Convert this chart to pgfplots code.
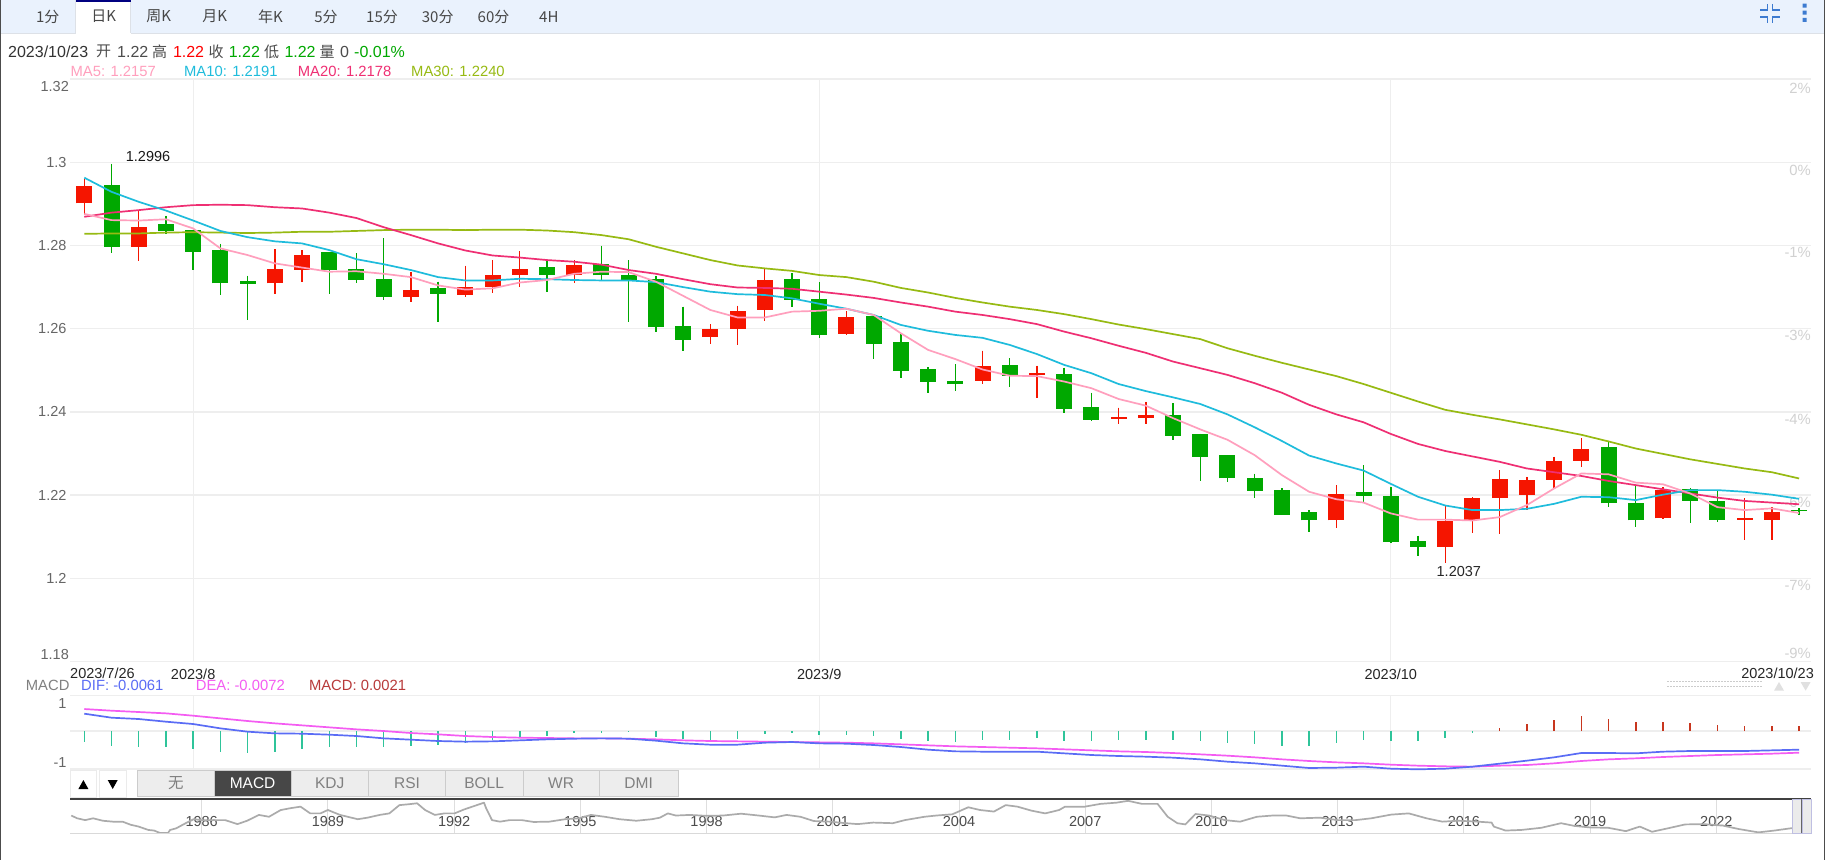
\documentclass[border=0pt]{standalone}
\usepackage{fontspec}
\usepackage{pgfplots}
\usepackage{pgfplotstable}
\pgfplotsset{compat=1.18}
\setmainfont{Liberation Sans}
\newfontfamily\cjk{Noto Sans CJK SC}

\definecolor{upred}{HTML}{F51500}
\definecolor{downgreen}{HTML}{00A800}
\definecolor{cma5}{HTML}{FF9FBD}
\definecolor{cma10}{HTML}{1FBCDC}
\definecolor{cma20}{HTML}{EF2F73}
\definecolor{cma30}{HTML}{97BA13}
\definecolor{cdif}{HTML}{5A6CF5}
\definecolor{cdea}{HTML}{F45CF2}
\definecolor{cmacd}{HTML}{B83A3A}
\definecolor{barup}{HTML}{C8361E}
\definecolor{bardown}{HTML}{2FC49A}
\definecolor{gridc}{HTML}{EEEEEE}
\definecolor{tabbg}{HTML}{EAF2FD}
\definecolor{iconblue}{HTML}{3D7BD0}

\newcommand{\fs}[1]{\fontsize{#1pt}{#1pt}\selectfont}

% i open high low close
\pgfplotstableread{
i o h l c
0 1.2901 1.2959 1.2873 1.2943
1 1.2946 1.2996 1.2781 1.2797
2 1.2797 1.2884 1.2763 1.2844
3 1.2852 1.2871 1.2827 1.2836
4 1.2837 1.2838 1.2740 1.2785
5 1.2789 1.2804 1.2680 1.2709
6 1.2715 1.2727 1.2620 1.2708
7 1.2709 1.2791 1.2683 1.2744
8 1.2742 1.2788 1.2712 1.2777
9 1.2784 1.2784 1.2684 1.2742
10 1.2744 1.2781 1.2711 1.2718
11 1.2720 1.2817 1.2668 1.2677
12 1.2676 1.2736 1.2665 1.2693
13 1.2699 1.2713 1.2616 1.2684
14 1.2682 1.2751 1.2675 1.2700
15 1.2701 1.2765 1.2686 1.2728
16 1.2729 1.2786 1.2701 1.2744
17 1.2748 1.2763 1.2688 1.2729
18 1.2730 1.2765 1.2709 1.2753
19 1.2756 1.2799 1.2717 1.2728
20 1.2728 1.2764 1.2615 1.2716
21 1.2720 1.2727 1.2591 1.2604
22 1.2607 1.2653 1.2547 1.2574
23 1.2580 1.2611 1.2564 1.2599
24 1.2600 1.2655 1.2562 1.2642
25 1.2646 1.2745 1.2619 1.2717
26 1.2720 1.2733 1.2652 1.2670
27 1.2672 1.2712 1.2577 1.2586
28 1.2588 1.2642 1.2585 1.2627
29 1.2630 1.2630 1.2528 1.2564
30 1.2567 1.2587 1.2482 1.2498
31 1.2503 1.2507 1.2446 1.2472
32 1.2474 1.2514 1.2450 1.2466
33 1.2475 1.2547 1.2468 1.2510
34 1.2513 1.2529 1.2459 1.2487
35 1.2489 1.2511 1.2434 1.2493
36 1.2492 1.2506 1.2397 1.2408
37 1.2411 1.2446 1.2378 1.2381
38 1.2384 1.2410 1.2370 1.2387
39 1.2385 1.2424 1.2370 1.2393
40 1.2393 1.2421 1.2333 1.2343
41 1.2347 1.2347 1.2233 1.2292
42 1.2296 1.2296 1.2231 1.2240
43 1.2240 1.2251 1.2194 1.2211
44 1.2212 1.2216 1.2152 1.2153
45 1.2159 1.2164 1.2111 1.2139
46 1.2139 1.2224 1.2121 1.2203
47 1.2207 1.2272 1.2182 1.2199
48 1.2197 1.2220 1.2084 1.2087
49 1.2089 1.2102 1.2054 1.2076
50 1.2076 1.2176 1.2037 1.2138
51 1.2141 1.2195 1.2108 1.2192
52 1.2193 1.2260 1.2107 1.2239
53 1.2201 1.2244 1.2164 1.2236
54 1.2237 1.2292 1.2214 1.2281
55 1.2283 1.2337 1.2268 1.2312
56 1.2315 1.2331 1.2172 1.2180
57 1.2180 1.2224 1.2123 1.2139
58 1.2144 1.2219 1.2142 1.2212
59 1.2215 1.2216 1.2134 1.2187
60 1.2185 1.2211 1.2136 1.2141
61 1.2141 1.2192 1.2091 1.2144
62 1.2141 1.2171 1.2093 1.2159
63 1.2164 1.2168 1.2153 1.2163
}\kline

\pgfplotstableread{
i ma5 ma10 ma20 ma30
0 1.2876 1.2963 1.2869 1.2828
1 1.2861 1.2929 1.2879 1.2829
2 1.2860 1.2905 1.2885 1.2829
3 1.2863 1.2884 1.2892 1.2831
4 1.2841 1.2860 1.2897 1.2832
5 1.2793 1.2835 1.2898 1.2831
6 1.2777 1.2820 1.2897 1.2830
7 1.2757 1.2810 1.2892 1.2831
8 1.2747 1.2805 1.2889 1.2833
9 1.2737 1.2789 1.2879 1.2833
10 1.2738 1.2767 1.2866 1.2835
11 1.2732 1.2755 1.2844 1.2837
12 1.2724 1.2741 1.2825 1.2838
13 1.2704 1.2724 1.2805 1.2838
14 1.2694 1.2716 1.2788 1.2837
15 1.2697 1.2716 1.2776 1.2838
16 1.2711 1.2720 1.2771 1.2838
17 1.2717 1.2719 1.2765 1.2836
18 1.2732 1.2717 1.2761 1.2832
19 1.2737 1.2716 1.2754 1.2825
20 1.2736 1.2716 1.2741 1.2815
21 1.2713 1.2712 1.2732 1.2797
22 1.2679 1.2700 1.2719 1.2781
23 1.2645 1.2689 1.2707 1.2765
24 1.2627 1.2683 1.2699 1.2752
25 1.2627 1.2681 1.2698 1.2745
26 1.2641 1.2673 1.2696 1.2739
27 1.2643 1.2660 1.2689 1.2729
28 1.2648 1.2648 1.2682 1.2724
29 1.2633 1.2633 1.2674 1.2713
30 1.2589 1.2609 1.2663 1.2698
31 1.2549 1.2595 1.2653 1.2687
32 1.2527 1.2585 1.2641 1.2674
33 1.2502 1.2578 1.2633 1.2663
34 1.2487 1.2561 1.2623 1.2653
35 1.2486 1.2539 1.2611 1.2645
36 1.2473 1.2513 1.2593 1.2635
37 1.2457 1.2493 1.2577 1.2623
38 1.2431 1.2467 1.2559 1.2610
39 1.2415 1.2450 1.2542 1.2599
40 1.2385 1.2435 1.2521 1.2587
41 1.2358 1.2419 1.2505 1.2575
42 1.2333 1.2394 1.2489 1.2553
43 1.2296 1.2363 1.2469 1.2535
44 1.2248 1.2330 1.2446 1.2518
45 1.2208 1.2295 1.2417 1.2502
46 1.2190 1.2276 1.2394 1.2486
47 1.2182 1.2259 1.2375 1.2467
48 1.2156 1.2227 1.2347 1.2446
49 1.2141 1.2196 1.2323 1.2425
50 1.2141 1.2175 1.2306 1.2405
51 1.2139 1.2164 1.2293 1.2393
52 1.2147 1.2164 1.2280 1.2382
53 1.2176 1.2167 1.2264 1.2370
54 1.2216 1.2179 1.2255 1.2358
55 1.2252 1.2196 1.2246 1.2345
56 1.2250 1.2195 1.2234 1.2329
57 1.2230 1.2188 1.2224 1.2312
58 1.2226 1.2201 1.2214 1.2299
59 1.2204 1.2212 1.2204 1.2286
60 1.2171 1.2212 1.2194 1.2275
61 1.2164 1.2208 1.2186 1.2264
62 1.2168 1.2201 1.2182 1.2255
63 1.2157 1.2191 1.2178 1.2240
}\maline

% MACD panel, values in thousandths
\pgfplotstableread{
i dif dea m
0 5.72 7.26 -3.52
1 4.40 6.71 -5.06
2 3.96 6.27 -5.28
3 3.08 5.83 -5.28
4 2.31 5.06 -5.94
5 0.88 4.18 -6.82
6 -0.22 3.30 -7.26
7 -0.77 2.53 -6.82
8 -0.88 1.87 -5.94
9 -1.21 1.21 -5.28
10 -1.65 0.55 -5.28
11 -2.42 0 -5.28
12 -2.86 -0.66 -4.84
13 -3.30 -1.10 -4.62
14 -3.52 -1.65 -3.85
15 -3.41 -1.98 -2.97
16 -3.08 -2.20 -1.98
17 -2.75 -2.31 -1.54
18 -2.53 -2.42 -0.77
19 -2.42 -2.42 -0.55
20 -2.53 -2.53 -0.44
21 -3.19 -2.75 -1.87
22 -4.07 -3.08 -2.75
23 -4.51 -3.30 -2.97
24 -4.51 -3.41 -2.53
25 -3.85 -3.52 -0.99
26 -3.63 -3.63 -0.55
27 -4.07 -3.74 -1.32
28 -4.18 -3.85 -1.21
29 -4.62 -4.07 -1.65
30 -5.28 -4.40 -2.64
31 -6.16 -4.73 -3.41
32 -6.71 -5.06 -3.74
33 -6.82 -5.28 -3.08
34 -6.82 -5.50 -2.86
35 -6.82 -5.72 -2.42
36 -7.37 -6.05 -3.19
37 -7.92 -6.38 -3.19
38 -8.25 -6.71 -2.86
39 -8.47 -6.93 -2.86
40 -8.80 -7.26 -3.08
41 -9.35 -7.70 -3.19
42 -10.12 -8.14 -3.85
43 -10.67 -8.69 -4.29
44 -11.44 -9.35 -4.84
45 -12.21 -9.90 -4.95
46 -12.10 -10.34 -3.85
47 -11.77 -10.67 -2.97
48 -12.43 -11.11 -3.19
49 -12.65 -11.44 -3.30
50 -12.43 -11.66 -2.31
51 -11.77 -11.77 -0.66
52 -10.78 -11.44 0.88
53 -9.79 -11.22 2.31
54 -8.69 -10.67 3.63
55 -7.26 -9.90 4.84
56 -7.26 -9.35 3.96
57 -7.37 -9.02 2.86
58 -6.82 -8.58 2.97
59 -6.60 -8.25 2.64
60 -6.60 -7.92 1.87
61 -6.60 -7.70 1.54
62 -6.38 -7.48 1.54
63 -6.16 -7.15 1.54
}\macdline

% navigator strip
\pgfplotstableread{
yr p
1982.90 1.61
1983.04 1.52
1983.23 1.46
1983.42 1.52
1983.65 1.44
1983.89 1.41
1984.12 1.41
1984.31 1.31
1984.50 1.25
1984.73 1.14
1984.87 1.12
1985.01 1.04
1985.20 1.04
1985.25 1.14
1985.39 1.19
1985.62 1.36
1985.81 1.49
1986.00 1.46
1986.28 1.46
1986.56 1.46
1986.85 1.33
1987.08 1.44
1987.36 1.63
1987.60 1.57
1987.88 1.79
1988.11 1.85
1988.35 1.90
1988.58 1.68
1988.82 1.68
1989.00 1.79
1989.29 1.63
1989.47 1.57
1989.71 1.49
1989.94 1.54
1990.23 1.63
1990.46 1.68
1990.70 1.95
1990.93 1.98
1991.12 2.01
1991.31 1.79
1991.54 1.63
1991.77 1.68
1992.01 1.68
1992.24 1.81
1992.71 2.03
1992.76 1.85
1992.90 1.46
1993.09 1.41
1993.32 1.46
1993.61 1.46
1993.89 1.40
1994.26 1.41
1994.64 1.49
1994.97 1.52
1995.25 1.63
1995.58 1.57
1995.93 1.49
1996.33 1.44
1996.70 1.49
1996.89 1.54
1997.08 1.68
1997.27 1.61
1997.60 1.63
1998.00 1.60
1998.39 1.61
1998.82 1.67
1999.24 1.61
1999.62 1.55
1999.90 1.63
2000.23 1.57
2000.55 1.43
2000.93 1.41
2001.31 1.36
2001.59 1.33
2001.96 1.38
2002.43 1.36
2002.71 1.46
2003.18 1.57
2003.46 1.61
2003.84 1.65
2004.22 1.88
2004.50 1.79
2004.83 1.74
2005.11 1.95
2005.39 1.90
2005.72 1.77
2006.05 1.68
2006.38 1.79
2006.52 1.90
2006.99 1.90
2007.36 1.99
2007.74 2.03
2008.02 2.09
2008.35 1.99
2008.72 1.99
2008.96 1.57
2009.19 1.36
2009.38 1.32
2009.62 1.66
2009.94 1.61
2010.32 1.46
2010.68 1.41
2011.08 1.57
2011.45 1.61
2011.78 1.61
2012.11 1.52
2012.58 1.54
2013.00 1.46
2013.42 1.46
2013.80 1.52
2014.27 1.64
2014.69 1.68
2015.11 1.52
2015.49 1.41
2015.86 1.44
2016.33 1.41
2016.66 1.38
2016.71 1.25
2016.99 1.12
2017.37 1.14
2017.84 1.21
2018.31 1.36
2018.63 1.27
2019.01 1.22
2019.43 1.21
2019.85 1.10
2020.18 1.25
2020.47 1.08
2020.84 1.19
2021.26 1.32
2021.69 1.33
2022.16 1.28
2022.53 1.17
2023.00 1.06
2023.38 1.12
2023.75 1.19
2023.97 1.22
}\overview

\pgfplotsset{
  panel/.style={
    scale only axis, width=1741pt,
    xmin=-0.525, xmax=63.44,
    axis line style={draw=none},
    major tick length=0pt,
    clip=false,
    tick label style={font=\fs{14.5}, text=black!60},
  },
  wick/.style={only marks, mark=*, mark size=0pt, mark options={draw=none, fill=none}, forget plot,
    error bars/y dir=minus, error bars/y explicit, error bars/error mark=none,
    error bars/error bar style={line width=1.4pt, #1}},
  body/.style={only marks, mark=*, mark size=0pt, mark options={draw=none, fill=none}, forget plot,
    error bars/y dir=plus, error bars/y explicit, error bars/error mark=none,
    error bars/error bar style={line width=16pt, #1}},
}

\begin{document}
\begin{tikzpicture}[x=1pt,y=1pt]
\path[use as bounding box, fill=white] (0,0) rectangle (1825,860);

% everything typed here is page furniture, in picture pixels with y running down
\begin{scope}[shift={(0,860)}, y=-1pt]
  % tab bar
  \fill[tabbg] (1,0) rectangle (1824,33.3);
  \draw[color=tabbg!85!black!60, line width=0.8pt] (1,33.5) -- (75.5,33.5);
  \draw[color=tabbg!85!black!60, line width=0.8pt] (130.5,33.5) -- (1824,33.5);
  \fill[white] (75.5,0) rectangle (130.5,34);
  \draw[color=tabbg!85!black!60, line width=0.8pt] (75.5,0) -- (75.5,33.5) (130.5,0) -- (130.5,33.5);
  \fill[blue!50!black] (75.5,0) rectangle (130.5,2);
  \foreach \xx/\lab in {47.8/1分, 103.6/日K, 158.6/周K, 214.7/月K, 270.5/年K, 326/5分, 382/15分, 437.7/30分, 493.5/60分, 548.8/4H}
    \node[font=\cjk\fs{15}, text=black!72, inner sep=0pt] at (\xx,16.7) {\lab};

  % compress and menu icons
  \draw[iconblue, line width=1.8pt]
    (1760,10) -- (1767.5,10) -- (1767.5,4)
    (1772.5,4) -- (1772.5,10) -- (1780,10)
    (1760,17) -- (1767.5,17) -- (1767.5,23)
    (1772.5,23) -- (1772.5,17) -- (1780,17);
  \fill[iconblue] (1802.7,3.7) rectangle +(4,4) (1802.7,10.7) rectangle +(4,4) (1802.7,18) rectangle +(4,4);

  % info row
  \begin{scope}[every node/.style={font=\fs{16}, anchor=west, inner sep=0pt}]
    \node[text=black!80] at (8,51.7) {2023/10/23};
    \node[text=black!70, font=\cjk\fs{15}] at (96,51.7) {开};
    \node[text=black!70] at (117,51.7) {1.22};
    \node[text=black!70, font=\cjk\fs{15}] at (152,51.7) {高};
    \node[text=red] at (172.8,51.7) {1.22};
    \node[text=black!70, font=\cjk\fs{15}] at (208.4,51.7) {收};
    \node[text=downgreen] at (228.6,51.7) {1.22};
    \node[text=black!70, font=\cjk\fs{15}] at (264,51.7) {低};
    \node[text=downgreen] at (284.3,51.7) {1.22};
    \node[text=black!70, font=\cjk\fs{15}] at (319.5,51.7) {量};
    \node[text=black!70] at (340,51.7) {0};
    \node[text=downgreen] at (354,51.7) {-0.01\%};
  \end{scope}
  \begin{scope}[every node/.style={font=\fs{14.8}, anchor=west, inner sep=0pt}]
    \node[text=cma5] at (70.4,71.7) {MA5: 1.2157};
    \node[text=cma10] at (183.9,71.7) {MA10: 1.2191};
    \node[text=cma20] at (297.7,71.7) {MA20: 1.2178};
    \node[text=cma30] at (411,71.7) {MA30: 1.2240};
    \node[text=black!50] at (25.7,685.7) {MACD};
    \node[text=cdif] at (81,685.7) {DIF: -0.0061};
    \node[text=cdea] at (195.7,685.7) {DEA: -0.0072};
    \node[text=cmacd] at (308.8,685.7) {MACD: 0.0021};
  \end{scope}

  % percentage scale, behind the lines
  \foreach \yy/\lab in {88.3/2\%, 170/0\%, 252.5/-1\%, 335/-3\%, 419/-4\%, 502.7/-6\%, 585.7/-7\%, 653/-9\%}
    \node[font=\fs{14.8}, text=black!18, anchor=east, inner sep=0pt] at (1811,\yy) {\lab};

  % dotted grip and arrows above the macd panel
  \draw[black!20, line width=1.5pt, dash pattern=on 1.5pt off 1.5pt]
    (1667,681.7) -- (1762,681.7) (1667,686.7) -- (1762,686.7);
  \fill[black!12] (1774,690.7) -- (1784,690.7) -- (1779,682) -- cycle;
  \fill[black!12] (1800.6,682) -- (1810.6,682) -- (1805.6,690.7) -- cycle;

  % indicator buttons
  \draw[black!8, fill=white] (70.4,770) rectangle (96.5,796.7);
  \draw[black!8, fill=white] (99.6,770) rectangle (125.7,796.7);
  \fill[black] (78.4,789) -- (88.4,789) -- (83.4,780) -- cycle;
  \fill[black] (107.7,780) -- (117.7,780) -- (112.7,789) -- cycle;
  \foreach \xa/\xb/\lab in {137.2/214.3/{\cjk 无}, 291/368.5/KDJ, 368.5/445.6/RSI, 445.6/522.7/BOLL, 522.7/599.5/WR, 599.5/677.7/DMI}
    \node[draw=black!20, fill=black!7, text=black!50, font=\fs{15.5}, inner sep=0pt,
          minimum width={\xb-\xa}, minimum height=26.7pt] at ({(\xa+\xb)/2},783.3) {\lab};
  \node[draw=black!20, fill=black!72, text=white, font=\fs{15.5}, inner sep=0pt,
        minimum width=76.7pt, minimum height=26.7pt] at (252.6,783.3) {MACD};

  % window border
  \fill[black!70] (0,0) rectangle (1.3,860);
  \fill[black!70] (1823.7,0) rectangle (1825,860);
\end{scope}

% main panel
\begin{axis}[panel, at={(70pt,198.5pt)}, anchor=south west, height=582.4pt,
    ymin=1.18, ymax=1.32,
    ytick={1.2,1.22,1.24,1.26,1.28,1.3},
    yticklabels={1.2,1.22,1.24,1.26,1.28,1.3},
    extra y ticks={1.18,1.32}, extra y tick labels={},
    xtick={4,27,48}, xticklabels={2023/8,2023/9,2023/10},
    x tick label style={text=black!85, yshift=-3.5pt},
    grid=major, grid style={gridc, line width=1.3pt},
    extra y tick style={grid=major, grid style={gridc, line width=1.3pt}},
  ]
  \addplot[wick=downgreen, x filter/.expression={\thisrow{c}<\thisrow{o}?x:nan}]
    table[x=i, y=h, y error minus expr=\thisrow{h}-\thisrow{l}] {\kline};
  \addplot[wick=upred, x filter/.expression={\thisrow{c}>=\thisrow{o}?x:nan}]
    table[x=i, y=h, y error minus expr=\thisrow{h}-\thisrow{l}] {\kline};
  \addplot[body=downgreen, x filter/.expression={\thisrow{c}<\thisrow{o}?x:nan}]
    table[x=i, y=c, y error plus expr=\thisrow{o}-\thisrow{c}] {\kline};
  \addplot[body=upred, x filter/.expression={\thisrow{c}>=\thisrow{o}?x:nan}]
    table[x=i, y=o, y error plus expr=\thisrow{c}-\thisrow{o}] {\kline};

  \addplot[cma30, line width=1.7pt, line join=round] table[x=i, y=ma30] {\maline};
  \addplot[cma20, line width=1.7pt, line join=round] table[x=i, y=ma20] {\maline};
  \addplot[cma10, line width=1.7pt, line join=round] table[x=i, y=ma10] {\maline};
  \addplot[cma5, line width=1.7pt, line join=round] table[x=i, y=ma5] {\maline};

  \node[font=\fs{14.5}, text=black!90, anchor=west, inner sep=0pt] at (axis cs:1.52,1.3014) {1.2996};
  \node[font=\fs{14.5}, text=black!85, inner sep=0pt] at (axis cs:50.5,1.2016) {1.2037};
  \node[font=\fs{14.5}, text=black!60, anchor=east, inner sep=0pt] at (axis cs:-0.56,1.3182) {1.32};
  \node[font=\fs{14.5}, text=black!60, anchor=east, inner sep=0pt] at (axis cs:-0.56,1.1818) {1.18};
  \node[font=\fs{14.5}, text=black!85, anchor=west, inner sep=0pt] at (axis cs:-0.525,1.1772) {2023/7/26};
  \node[font=\fs{14.5}, text=black!85, anchor=east, inner sep=0pt] at (axis cs:63.55,1.1772) {2023/10/23};
\end{axis}

% macd panel
\begin{axis}[panel, at={(70pt,91pt)}, anchor=south west, height=73.3pt,
    ymin=-12.54, ymax=11.66,
    ytick={9.13,-10.34}, yticklabels={1,-1},
    xtick={4,27,48}, xticklabels={},
    xmajorgrids, x grid style={gridc, line width=1.3pt},
    extra y ticks={-12.54,0,11.66}, extra y tick labels={},
    extra y tick style={grid=major, grid style={gridc, line width=1.3pt}},
  ]
  \addplot[ycomb, bardown, line width=1.5pt, mark=none, y filter/.expression={y<0?y:nan}]
    table[x=i, y=m] {\macdline};
  \addplot[ycomb, barup, line width=1.5pt, mark=none, y filter/.expression={y>0?y:nan}]
    table[x=i, y=m] {\macdline};
  \addplot[cdea, line width=1.7pt, line join=round] table[x=i, y=dea] {\macdline};
  \addplot[cdif, line width=1.7pt, line join=round] table[x=i, y=dif] {\macdline};
\end{axis}

% navigator
\begin{axis}[scale only axis, width=1741pt, height=34pt, at={(70pt,26.7pt)}, anchor=south west,
    xmin=1982.87, xmax=2024.25, ymin=1.03, ymax=2.14,
    axis line style={draw=none}, major tick length=0pt, clip=false,
    xtick={1986,1989,1992,1995,1998,2001,2004,2007,2010,2013,2016,2019,2022},
    xticklabels={1986,1989,1992,1995,1998,2001,2004,2007,2010,2013,2016,2019,2022},
    x tick label style={font=\fs{14.5}, text=black!70, anchor=center, yshift=12pt},
    ytick=\empty,
    xmajorgrids, x grid style={black!13, line width=1pt},
  ]
  \addplot[black!33, line width=1.7pt, line join=round] table[x=yr, y=p] {\overview};
\end{axis}

\begin{scope}[shift={(0,860)}, y=-1pt]
  \draw[black!15, line width=1pt] (70,833.3) -- (1811,833.3);
  \draw[black!75, line width=2pt] (70,798.7) -- (1811,798.7);
  \draw[black!45!blue!25!white, fill=black!8] (1792.6,798.7) rectangle (1801,832.7);
  \draw[black!45!blue!25!white, fill=black!8] (1802,798.7) rectangle (1811.6,832.7);
  \fill[black!60] (1801,798.7) rectangle (1802,832.7);
\end{scope}
\end{tikzpicture}
\end{document}
